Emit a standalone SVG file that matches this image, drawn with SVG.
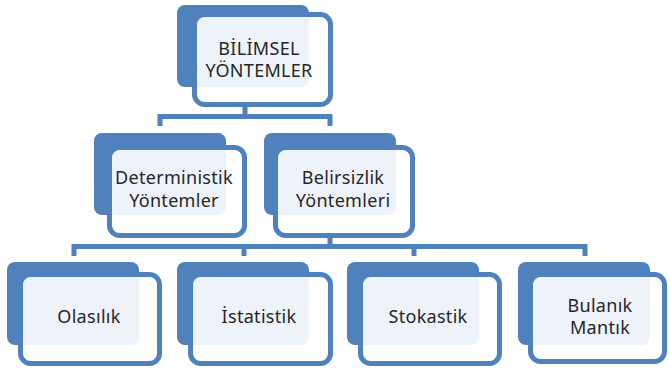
<svg xmlns="http://www.w3.org/2000/svg" width="670" height="372" viewBox="0 0 670 372">
<style>
.back{fill:#4F81BD;}
.front{fill:#FFFFFF;fill-opacity:0.9;stroke:#4F81BD;stroke-width:5;}
.t{font-family:"Noto Sans","Open Sans","DejaVu Sans",sans-serif;font-size:18px;fill:#262626;text-anchor:middle;letter-spacing:0.3px;}
.c{fill:none;stroke:#4F81BD;stroke-width:5;}
</style>
<rect width="670" height="372" fill="#FFFFFF"/>
<g id="connectors">
<path class="c" d="M245,106 V116.5"/>
<path class="c" d="M160,126 V116.5 H330 V126"/>
<path class="c" d="M330,237 V246.5"/>
<path class="c" d="M74,256 V246.5 H585 V256"/>
<path class="c" d="M244,246.5 V256"/>
<path class="c" d="M414,246.5 V256"/>
</g>
<g id="n-bilimsel">
<rect class="back" x="177" y="5" width="132" height="82" rx="8"/>
<rect class="front" x="194.5" y="14.5" width="136" height="90" rx="10"/>
<text class="t" x="259" y="55">BİLİMSEL</text>
<text class="t" x="259" y="77">YÖNTEMLER</text>
</g>
<g id="n-deterministik">
<rect class="back" x="94" y="133" width="132" height="82" rx="8"/>
<rect class="front" x="109.5" y="147.5" width="135" height="88" rx="10"/>
<text class="t" x="174" y="184">Deterministik</text>
<text class="t" x="174" y="207">Yöntemler</text>
</g>
<g id="n-belirsizlik">
<rect class="back" x="264" y="133" width="132" height="82" rx="8"/>
<rect class="front" x="275.5" y="147.5" width="137" height="88" rx="10"/>
<text class="t" x="343" y="184">Belirsizlik</text>
<text class="t" x="343" y="207">Yöntemleri</text>
</g>
<g id="n-olasilik">
<rect class="back" x="7" y="262" width="132" height="83" rx="8"/>
<rect class="front" x="20.5" y="274.5" width="139" height="89" rx="10"/>
<text class="t" x="89" y="323">Olasılık</text>
</g>
<g id="n-istatistik">
<rect class="back" x="177" y="262" width="132" height="83" rx="8"/>
<rect class="front" x="190.5" y="274.5" width="140" height="89" rx="10"/>
<text class="t" x="259" y="323">İstatistik</text>
</g>
<g id="n-stokastik">
<rect class="back" x="347" y="262" width="132" height="83" rx="8"/>
<rect class="front" x="360.5" y="274.5" width="139" height="89" rx="10"/>
<text class="t" x="428" y="323">Stokastik</text>
</g>
<g id="n-bulanik">
<rect class="back" x="518" y="262" width="132" height="83" rx="8"/>
<rect class="front" x="530.5" y="274.5" width="134" height="87" rx="10"/>
<text class="t" x="600" y="312">Bulanık</text>
<text class="t" x="600" y="334">Mantık</text>
</g>
</svg>
